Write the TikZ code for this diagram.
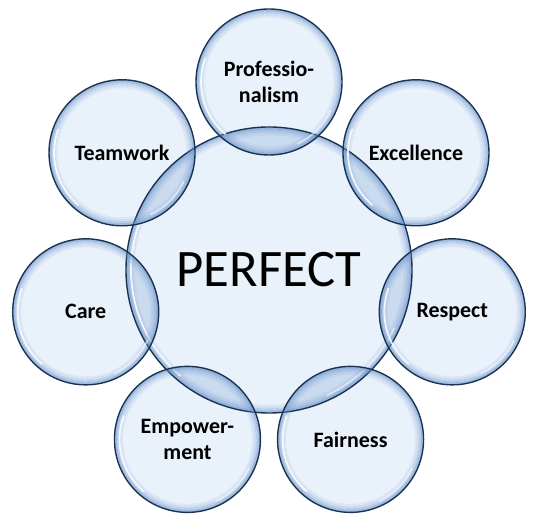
\documentclass[tikz,border=0pt]{standalone}
\usepackage{fontspec}
\setmainfont{Carlito}
\usetikzlibrary{calc}
\definecolor{rim}{HTML}{1A3352}
\definecolor{bubin}{HTML}{E4EDFA}
\definecolor{bubedge}{HTML}{6A95CC}
\tikzset{glass/.style={circle,fill=bubin,fill opacity=.8,text opacity=1,inner sep=0pt},
  hub/.style={glass,minimum size=5.72cm,font=\fontsize{30}{32}\selectfont},
  petal/.style={glass,minimum size=2.92cm,align=center,font=\bfseries\fontsize{12.5}{14.5}\selectfont},
  ring/.style={draw=rim,line width=.8pt},
  tint/.style={draw=bubedge,line width=1.2pt},
  lens/.style={fill=bubedge,opacity=.22},
  shine/.style={draw=white,line width=1pt,opacity=.85,line cap=round}}

\begin{document}
\begin{tikzpicture}[x=0.02cm,y=0.02cm]
\useasboundingbox (0,0) rectangle (533,523);
\node[hub] (perfect) at (269,253) {PERFECT};
\foreach \name/\ang/\txt in {prof/90/{Professio-\\nalism},exc/38.57/Excellence,
  resp/-12.86/Respect,fair/-64.29/Fairness,emp/-115.71/{Empower-\\ment},
  care/-167.14/Care,team/141.43/Teamwork}
  \node[petal] (\name) at ($(perfect)+(\ang:188)$) {\txt};
% overlaps with the hub
\begin{scope}
  \clip (perfect.center) circle[radius=143];
  \foreach \name in {prof,exc,resp,fair,emp,care,team}
    \fill[lens] (\name.center) circle[radius=73];
\end{scope}
% blue rim, outlines and gloss on top of all fills
\foreach \name/\r in {perfect/143,prof/73,exc/73,resp/73,fair/73,emp/73,care/73,team/73}{
  \draw[tint,opacity=.55] (\name.center) circle[radius=\r-1.5];
  \draw[tint,opacity=.35] (\name.center) circle[radius=\r-3.5];
  \draw[tint,opacity=.2] (\name.center) circle[radius=\r-5.5];
  \draw[tint,opacity=.1] (\name.center) circle[radius=\r-7.5];
  \draw[ring] (\name.center) circle[radius=\r];
  \draw[shine] ($(\name.center)+(160:\r-5)$) arc[start angle=160,end angle=230,radius=\r-5];
  \draw[shine,opacity=.55] ($(\name.center)+(-65:\r-5)$) arc[start angle=-65,end angle=-25,radius=\r-5];
}
\end{tikzpicture}
\end{document}
